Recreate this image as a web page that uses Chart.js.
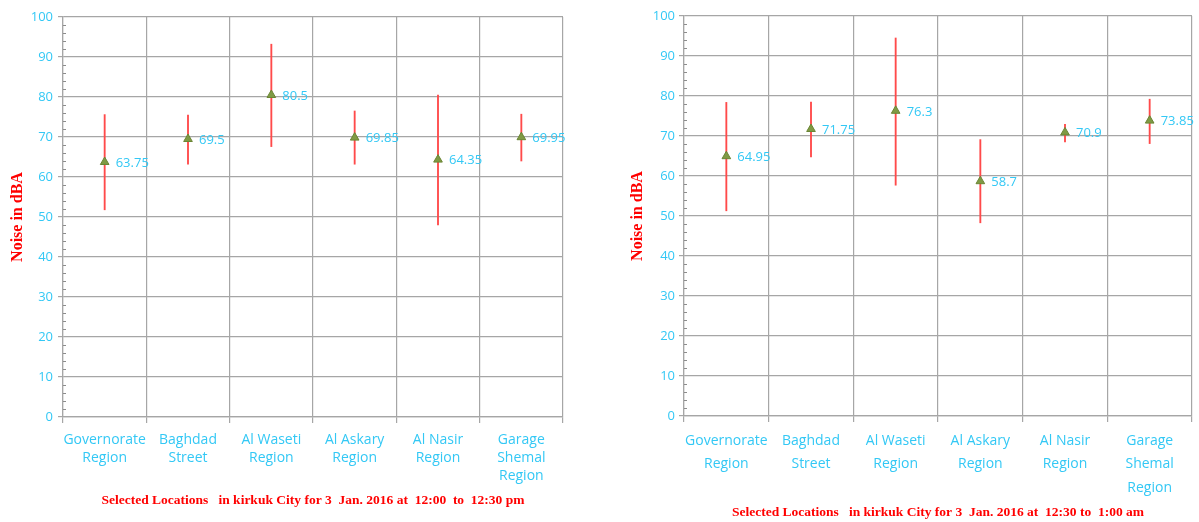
<!DOCTYPE html>
<html>
<head>
<meta charset="utf-8">
<script src="https://cdn.jsdelivr.net/npm/chart.js@4/dist/chart.umd.min.js"></script>
<style>
  html, body { margin: 0; padding: 0; background: #fff; }
  .wrap { position: absolute; top: 0; height: 522px; }
  #left { left: 0; width: 590px; }
  #right { left: 600px; width: 599px; }
</style>
</head>
<body>
<div class="wrap" id="left"><canvas id="noonChart"></canvas></div>
<div class="wrap" id="right"><canvas id="nightChart"></canvas></div>
<script>
const categories = [
  ['Governorate', 'Region'],
  ['Baghdad', 'Street'],
  ['Al Waseti', 'Region'],
  ['Al Askary', 'Region'],
  ['Al Nasir', 'Region'],
  ['Garage', 'Shemal', 'Region']
];
const yTicks = [0, 10, 20, 30, 40, 50, 60, 70, 80, 90, 100];

// 12:00 - 12:30 pm
const noonMean = [63.75, 69.5, 80.5, 69.85, 64.35, 69.95];
const noonMin  = [51.8, 63.2, 67.6, 63.2, 48.0, 64.0];
const noonMax  = [75.6, 75.5, 93.2, 76.5, 80.5, 75.7];

// 12:30 - 1:00 am
const nightMean = [64.95, 71.75, 76.3, 58.7, 70.9, 73.85];
const nightMin  = [51.3, 64.8, 57.7, 48.3, 68.5, 68.1];
const nightMax  = [78.4, 78.5, 94.5, 69.1, 72.9, 79.2];

const CYAN = '#33c8f5';
const RED = '#ff0000';
const GRID = '#a6a6a6';

/* minor ticks on the value axis, every 2 units */
const minorTicks = {
  id: 'minorTicks',
  afterDraw(chart) {
    const y = chart.scales.y;
    const x0 = chart.chartArea.left;
    const ctx = chart.ctx;
    ctx.save();
    ctx.strokeStyle = '#8c8c8c';
    ctx.lineWidth = 1;
    for (let v = 2; v < 100; v += 2) {
      if (v % 10 === 0) continue;
      const py = Math.round(y.getPixelForValue(v)) + 0.5;
      ctx.beginPath();
      ctx.moveTo(x0, py);
      ctx.lineTo(x0 + 3, py);
      ctx.stroke();
    }
    ctx.restore();
  }
};

/* value labels to the right of each marker */
const valueLabels = {
  id: 'valueLabels',
  afterDatasetsDraw(chart) {
    const meta = chart.getDatasetMeta(0);
    const data = chart.data.datasets[0].data;
    const ctx = chart.ctx;
    ctx.save();
    ctx.font = '13px "Open Sans", sans-serif';
    ctx.fillStyle = CYAN;
    ctx.textBaseline = 'middle';
    meta.data.forEach((pt, i) => {
      ctx.fillText(String(data[i]), pt.x + 11, pt.y + 1);
    });
    ctx.restore();
  }
};

function makeChart(id, mean, lo, hi, title, cfg) {
  const ranges = lo.map((v, i) => [v, hi[i]]);
  return new Chart(document.getElementById(id), {
    data: {
      labels: categories,
      datasets: [
        {
          type: 'line',
          data: mean,
          showLine: false,
          pointStyle: 'triangle',
          pointRadius: 5,
          pointBackgroundColor: '#7f9a44',
          pointBorderColor: '#6a8535',
          pointBorderWidth: 1,
          order: 0
        },
        {
          type: 'bar',
          data: ranges,
          backgroundColor: '#ff4a4a',
          barThickness: 1.2,
          order: 1
        }
      ]
    },
    options: {
      responsive: true,
      maintainAspectRatio: false,
      animation: false,
      layout: { padding: { top: cfg.top, right: cfg.right, left: 0, bottom: 0 } },
      plugins: { legend: { display: false }, tooltip: { enabled: false } },
      scales: {
        x: {
          grid: { color: GRID, lineWidth: 1.2, tickLength: 6, offset: true, tickColor: GRID },
          border: { color: GRID, width: 1.2 },
          ticks: {
            color: CYAN,
            font: { family: 'Open Sans', size: 14, lineHeight: cfg.lineH },
            padding: cfg.tickPad,
            maxRotation: 0,
            autoSkip: false
          },
          title: {
            display: true,
            text: title,
            color: RED,
            font: { family: 'Liberation Serif', size: 13.5, weight: 'bold' },
            padding: { top: 0, bottom: cfg.titlePad }
          },
          afterFit: s => { s.height = cfg.xHeight; }
        },
        y: {
          min: 0,
          max: 100,
          afterBuildTicks: s => { s.ticks = yTicks.map(v => ({ value: v })); },
          grid: { color: GRID, lineWidth: 1.2, tickLength: 5, tickColor: GRID },
          border: { color: GRID, width: 1.2 },
          ticks: {
            color: CYAN,
            font: { family: 'Open Sans', size: 13 },
            padding: cfg.yTickPad
          },
          title: {
            display: true,
            text: 'Noise in dBA',
            color: RED,
            font: { family: 'Liberation Serif', size: 16, weight: 'bold' },
            padding: { top: cfg.yTitlePad, bottom: 0 }
          },
          afterFit: s => { s.width = cfg.yWidth; }
        }
      }
    },
    plugins: [minorTicks, valueLabels]
  });
}

makeChart('noonChart', noonMean, noonMin, noonMax,
  'Selected Locations   in kirkuk City for 3  Jan. 2016 at  12:00  to  12:30 pm',
  { top: 17, right: 27, xHeight: 105, yWidth: 63, lineH: 1.3, tickPad: 8, titlePad: 13, yTickPad: 5, yTitlePad: 8 });

makeChart('nightChart', nightMean, nightMin, nightMax,
  'Selected Locations   in kirkuk City for 3  Jan. 2016 at  12:30 to  1:00 am',
  { top: 16, right: 7, xHeight: 106, yWidth: 84, lineH: 1.68, tickPad: 7, titlePad: 1, yTickPad: 4, yTitlePad: 28 });
</script>
</body>
</html>
